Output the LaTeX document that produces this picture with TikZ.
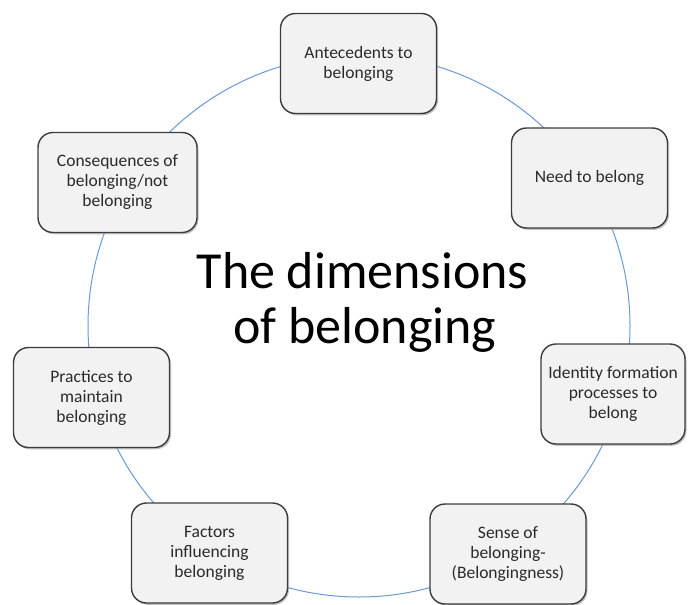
\documentclass[tikz,border=0pt]{standalone}
\usepackage{fontspec}
\setmainfont{Carlito}
\usetikzlibrary{shadows}
\definecolor{ringblue}{HTML}{6A9AD6}
\definecolor{boxfill}{HTML}{F2F2F2}
\definecolor{boxline}{HTML}{3C3C3C}
\definecolor{boxtext}{HTML}{2A2A2A}
\tikzset{
  dimbox/.style={rectangle, rounded corners=15pt, draw=boxline, line width=1.4pt,
    fill=boxfill, minimum width=156pt, minimum height=100pt, align=center,
    text=boxtext, font=\fontsize{17.5}{20}\selectfont, inner sep=2pt,
    drop shadow={shadow xshift=1.5pt, shadow yshift=-1.8pt, fill=black!40, opacity=0.6}},
  titletext/.style={font=\fontsize{52}{55}\selectfont, text=black, anchor=base, inner sep=0pt},
  ring/.style={draw=ringblue, line width=1pt}
}
\begin{document}
\begin{tikzpicture}[x=1pt,y=-1pt]
\useasboundingbox (0,0) rectangle (688,605);
\fill[white] (0,0) rectangle (688,605);
\coordinate (c) at (359,326);
\draw[ring] (c) circle (271);
\node[dimbox] (b1) at (358.5,63.5) {Antecedents to\\belonging};
\node[dimbox] (b2) at (589.5,178) {Need to belong};
\node[dimbox, minimum width=144pt] (b3) at (613,394) {Identity formation\\processes to\\belong};
\node[dimbox] (b4) at (508,554) {Sense of\\belonging-\\(Belongingness)};
\node[dimbox] (b5) at (209.5,553) {Factors\\influencing\\belonging};
\node[dimbox] (b6) at (91.5,397.5) {Practices to\\maintain\\belonging};
\node[dimbox, minimum width=159pt] (b7) at (117.5,182.5) {Consequences of\\belonging/not\\belonging};
\node[titletext] (t1) at (362.5,288) {The dimensions};
\node[titletext] (t2) at (365,343) {of belonging};
\end{tikzpicture}
\end{document}
